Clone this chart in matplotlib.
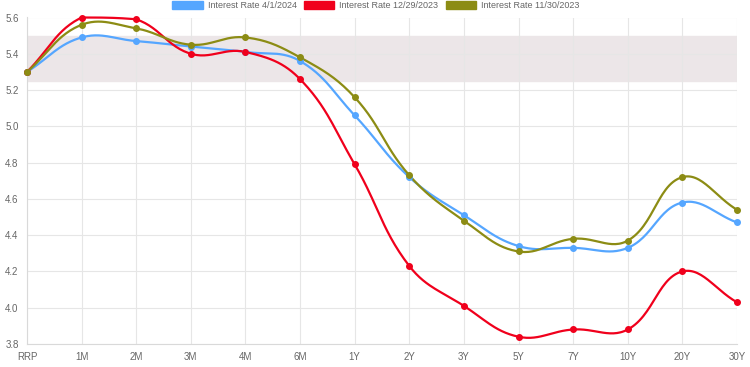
import numpy as np
from matplotlib import pyplot as plt
from matplotlib.patches import Patch

tenors = ['RRP', '1M', '2M', '3M', '4M', '6M', '1Y', '2Y', '3Y', '5Y', '7Y', '10Y', '20Y', '30Y']
rate_apr_2024 = [5.30, 5.49, 5.47, 5.44, 5.41, 5.36, 5.06, 4.72, 4.51, 4.34, 4.33, 4.33, 4.58, 4.47]
rate_dec_2023 = [5.30, 5.60, 5.59, 5.40, 5.41, 5.26, 4.79, 4.23, 4.01, 3.84, 3.88, 3.88, 4.20, 4.03]
rate_nov_2023 = [5.30, 5.56, 5.54, 5.45, 5.49, 5.38, 5.16, 4.73, 4.48, 4.31, 4.38, 4.37, 4.72, 4.54]
labels = ['Interest Rate 4/1/2024', 'Interest Rate 12/29/2023', 'Interest Rate 11/30/2023']
colors = ['#55a6ff', '#f0001c', '#8c8c14']
band = (5.25, 5.5)
ymin, ymax = 3.8, 5.6

XPX = 54.6   # pixels per category step
YPX = 181.4  # pixels per 1.0 on y


def smooth(xs, ys, tension=0.4, n=30):
    # bezier curve through the points, like chart.js line tension
    # (control points capped to the chart area)
    px = np.array(xs, float) * XPX
    py = np.array(ys, float) * YPX
    lo, hi = ymin * YPX, ymax * YPX
    cx, cy = [], []
    m = len(px)
    cps = []
    for i in range(m):
        p = (px[max(i - 1, 0)], py[max(i - 1, 0)])
        c = (px[i], py[i])
        nx = (px[min(i + 1, m - 1)], py[min(i + 1, m - 1)])
        d01 = np.hypot(c[0] - p[0], c[1] - p[1])
        d12 = np.hypot(nx[0] - c[0], nx[1] - c[1])
        tot = d01 + d12 if d01 + d12 > 0 else 1
        fa = tension * d01 / tot
        fb = tension * d12 / tot
        prev_cp = (c[0] - fa * (nx[0] - p[0]), np.clip(c[1] - fa * (nx[1] - p[1]), lo, hi))
        next_cp = (c[0] + fb * (nx[0] - p[0]), np.clip(c[1] + fb * (nx[1] - p[1]), lo, hi))
        cps.append((prev_cp, next_cp))
    t = np.linspace(0, 1, n)
    for i in range(m - 1):
        p0 = np.array([px[i], py[i]])
        p1 = np.array(cps[i][1])
        p2 = np.array(cps[i + 1][0])
        p3 = np.array([px[i + 1], py[i + 1]])
        pts = ((1 - t) ** 3)[:, None] * p0 + (3 * (1 - t) ** 2 * t)[:, None] * p1 \
            + (3 * (1 - t) * t ** 2)[:, None] * p2 + (t ** 3)[:, None] * p3
        cx.extend(pts[:, 0])
        cy.extend(pts[:, 1])
    return np.array(cx) / XPX, np.array(cy) / YPX


plt.rcParams['font.family'] = ['Liberation Sans', 'DejaVu Sans']
fig = plt.figure(figsize=(7.5, 3.67), dpi=100)
ax = fig.add_axes([27 / 750, 23 / 367, 710 / 750, 326.5 / 367])

x = np.arange(len(tenors))
ax.axhspan(band[0], band[1], color='#ece6e8', zorder=0)

for ys, col in zip([rate_apr_2024, rate_dec_2023, rate_nov_2023], colors):
    sx, sy = smooth(x, ys)
    ax.plot(sx, sy, color=col, lw=1.6, zorder=3, solid_capstyle='round', clip_on=False)
    ax.plot(x, ys, 'o', color=col, ms=4, zorder=4, clip_on=False)

ax.set_xlim(0, len(tenors) - 1)
ax.set_ylim(ymin, ymax)
ax.set_xticks(x)
ax.set_xticklabels(tenors)
ax.set_yticks(np.arange(3.8, 5.61, 0.2))
ax.set_yticklabels([f'{v:.1f}' for v in np.arange(3.8, 5.61, 0.2)])
ax.grid(True, color='#e6e6e6', lw=0.8, zorder=1)
ax.tick_params(colors='#666666', labelsize=7, length=0, pad=6)
for s in ['top', 'right']:
    ax.spines[s].set_visible(False)
for s in ['left', 'bottom']:
    ax.spines[s].set_color('#d9d9d9')
    ax.spines[s].set_linewidth(0.8)
ax.set_axisbelow(True)

handles = [Patch(facecolor=c, edgecolor=c, label=l) for c, l in zip(colors, labels)]
fig.legend(handles=handles, loc='upper center', bbox_to_anchor=(0.501, 1.02), ncol=3,
           frameon=False, fontsize=6.5, labelcolor='#666666', handlelength=3.4,
           handleheight=1.1, handletextpad=0.55, columnspacing=0.8)

fig.savefig('out.png', dpi=100)
